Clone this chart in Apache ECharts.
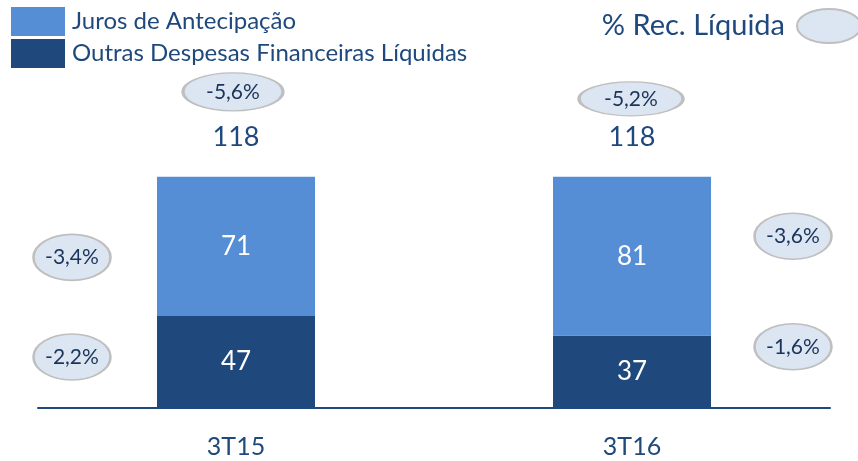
<!DOCTYPE html>
<html>
<head>
<meta charset="utf-8">
<script src="https://cdn.jsdelivr.net/npm/echarts@6/dist/echarts.min.js"></script>
<style>
  html, body { margin: 0; padding: 0; background: #fff; }
  #chart { width: 858px; height: 461px; }
</style>
</head>
<body>
<div id="chart"></div>
<script>
// dados
const categories = ['3T15', '3T16'];
const outrasDespesas = [47, 37];        // Outras Despesas Financeiras Líquidas
const jurosAntecipacao = [71, 81];      // Juros de Antecipação
const pctTotal = ['-5,6%', '-5,2%'];    // % Rec. Líquida (total)
const pctJuros = ['-3,4%', '-3,6%'];
const pctOutras = ['-2,2%', '-1,6%'];

const darkBlue = '#1f487c';
const lightBlue = '#558ed5';
const textBlue = '#1f497d';
const font = 'Lato, "Noto Sans", sans-serif';

const totals = categories.map((c, i) => outrasDespesas[i] + jurosAntecipacao[i]);

// deslocamentos das elipses (px)
const sideDx = [-164, 161];
const jurosDy = [11, -20];
const outrasDy = [-5, -25];
const topOffset = [[-3, -85], [-1, -78]];
const topSize = [[100, 38], [104, 34]];

const ellipseData = [];
categories.forEach((c, i) => {
  ellipseData.push({
    value: [c, totals[i]],
    symbolSize: topSize[i],
    symbolOffset: topOffset[i],
    label: { formatter: pctTotal[i] }
  });
  ellipseData.push({
    value: [c, outrasDespesas[i] + jurosAntecipacao[i] / 2],
    symbolSize: [77, 46],
    symbolOffset: [sideDx[i], jurosDy[i]],
    label: { formatter: pctJuros[i] }
  });
  ellipseData.push({
    value: [c, outrasDespesas[i] / 2],
    symbolSize: [77, 46],
    symbolOffset: [sideDx[i], outrasDy[i]],
    label: { formatter: pctOutras[i] }
  });
});

const chart = echarts.init(document.getElementById('chart'));
chart.setOption({
  animation: false,
  textStyle: { fontFamily: font },
  legend: [
    {
      data: ['Juros de Antecipação', 'Outras Despesas Financeiras Líquidas'],
      orient: 'vertical',
      left: 11,
      top: 7,
      padding: 0,
      itemWidth: 54,
      itemHeight: 29,
      itemGap: 3,
      icon: 'rect',
      selectedMode: false,
      textStyle: { fontSize: 24, color: textBlue, fontFamily: font, padding: [0, 0, 0, 2] }
    },
    {
      data: ['% Rec. Líquida'],
      align: 'right',
      right: -4,
      top: 8,
      padding: 0,
      itemWidth: 64,
      itemHeight: 34,
      symbolKeepAspect: false,
      icon: 'path://M0,1 A1,1 0 1,1 2,1 A1,1 0 1,1 0,1 Z',
      selectedMode: false,
      textStyle: { fontSize: 29, color: textBlue, fontFamily: font, padding: [0, 7, 0, 0] }
    }
  ],
  grid: { left: 38, right: 28, top: 75, bottom: 53 },
  xAxis: {
    type: 'category',
    data: categories,
    axisLine: { lineStyle: { color: textBlue, width: 2 } },
    axisTick: { show: false },
    axisLabel: { fontSize: 25, color: textBlue, margin: 26, fontFamily: font }
  },
  yAxis: { type: 'value', min: 0, max: 170, show: false },
  series: [
    {
      name: 'Outras Despesas Financeiras Líquidas',
      type: 'bar',
      stack: 'total',
      barWidth: 158,
      data: outrasDespesas,
      itemStyle: { color: darkBlue },
      label: { show: true, position: 'inside', color: '#fff', fontSize: 26, fontFamily: font }
    },
    {
      name: 'Juros de Antecipação',
      type: 'bar',
      stack: 'total',
      barWidth: 158,
      data: jurosAntecipacao,
      itemStyle: { color: lightBlue },
      label: { show: true, position: 'inside', color: '#fff', fontSize: 26, fontFamily: font }
    },
    {
      name: 'total',
      type: 'scatter',
      symbolSize: 0,
      data: categories.map((c, i) => [c, totals[i]]),
      itemStyle: { opacity: 1 },
      label: {
        show: true,
        position: 'inside',
        offset: [0, -40],
        formatter: p => p.value[1],
        fontSize: 27,
        color: textBlue,
        fontFamily: font
      },
      z: 5
    },
    {
      name: '% Rec. Líquida',
      type: 'scatter',
      symbol: 'circle',
      data: ellipseData,
      itemStyle: { color: '#dce6f2', borderColor: '#bfbfbf', borderWidth: 2, opacity: 1 },
      label: { show: true, position: 'inside', fontSize: 21, color: '#1a3358', fontFamily: font },
      z: 6
    }
  ]
});
</script>
</body>
</html>
